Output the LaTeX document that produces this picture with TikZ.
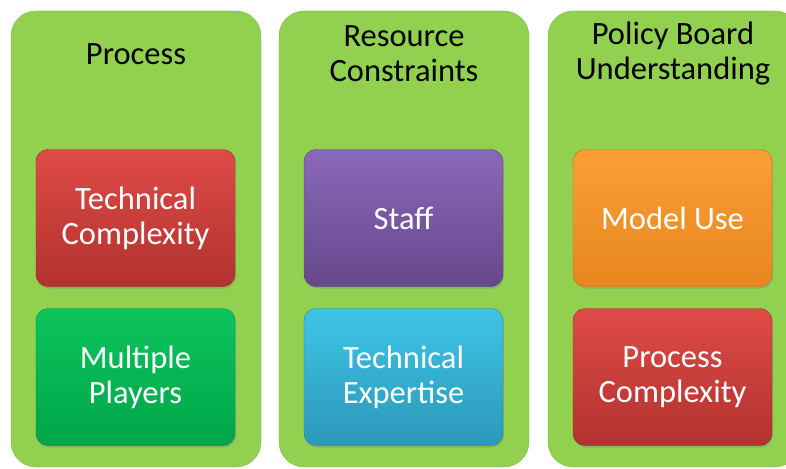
\documentclass[tikz,border=0pt]{standalone}
\usepackage{fontspec}
\setmainfont{Carlito}
\usetikzlibrary{shadows,calc}
\definecolor{colbg}{HTML}{92D050}
\definecolor{redT}{HTML}{DE4B47}\definecolor{redB}{HTML}{B2322F}
\definecolor{grnT}{HTML}{0CC45D}\definecolor{grnB}{HTML}{00A548}
\definecolor{purT}{HTML}{8A68B8}\definecolor{purB}{HTML}{67488C}
\definecolor{cyaT}{HTML}{3FC4E8}\definecolor{cyaB}{HTML}{2C98B8}
\definecolor{oraT}{HTML}{FA9F36}\definecolor{oraB}{HTML}{E8861E}
\tikzset{
  x=1pt,y=1pt,
  column/.style={fill=colbg,rounded corners=25pt,draw=colbg!85!black,line width=0.3pt},
  itembox/.style={rectangle,rounded corners=12pt,minimum width=199pt,minimum height=137pt,
     align=center,text=white,font=\fontsize{32.5}{35}\selectfont,
     draw=#1B!85!black,line width=0.4pt,top color=#1T,bottom color=#1B,
     drop shadow={shadow xshift=1pt,shadow yshift=-2pt,opacity=0.35}},
  title/.style={align=center,text=black,font=\fontsize{32.5}{35}\selectfont}
}
\begin{document}
\begin{tikzpicture}
\useasboundingbox (0,0) rectangle (786,-468);
\clip (0,0) rectangle (786,-468);
\fill[white] (0,0) rectangle (786,-468);
% columns
\draw[column] (11,-11) rectangle (261,-467);
\draw[column] (279,-11) rectangle (529,-467);
\draw[column] (548,-11) rectangle (800,-467);
% titles
\node[title,anchor=center] (t1) at (136,-54) {Process};
\node[title,anchor=center] (t2) at (404,-54) {Resource\\Constraints};
\node[title,anchor=center] (t3) at (673,-54) {Policy Board\\Understanding};
% boxes
\node[itembox=red] (b11) at (135.5,-218) {Technical\\Complexity};
\node[itembox=grn] (b12) at (135.5,-377) {Multiple\\Players};
\node[itembox=pur] (b21) at (403.5,-218) {Staff};
\node[itembox=cya] (b22) at (403.5,-377) {Technical\\Expertise};
\node[itembox=ora] (b31) at (672.5,-218) {Model Use};
\node[itembox=red] (b32) at (672.5,-377) {Process\\Complexity};
\end{tikzpicture}
\end{document}
